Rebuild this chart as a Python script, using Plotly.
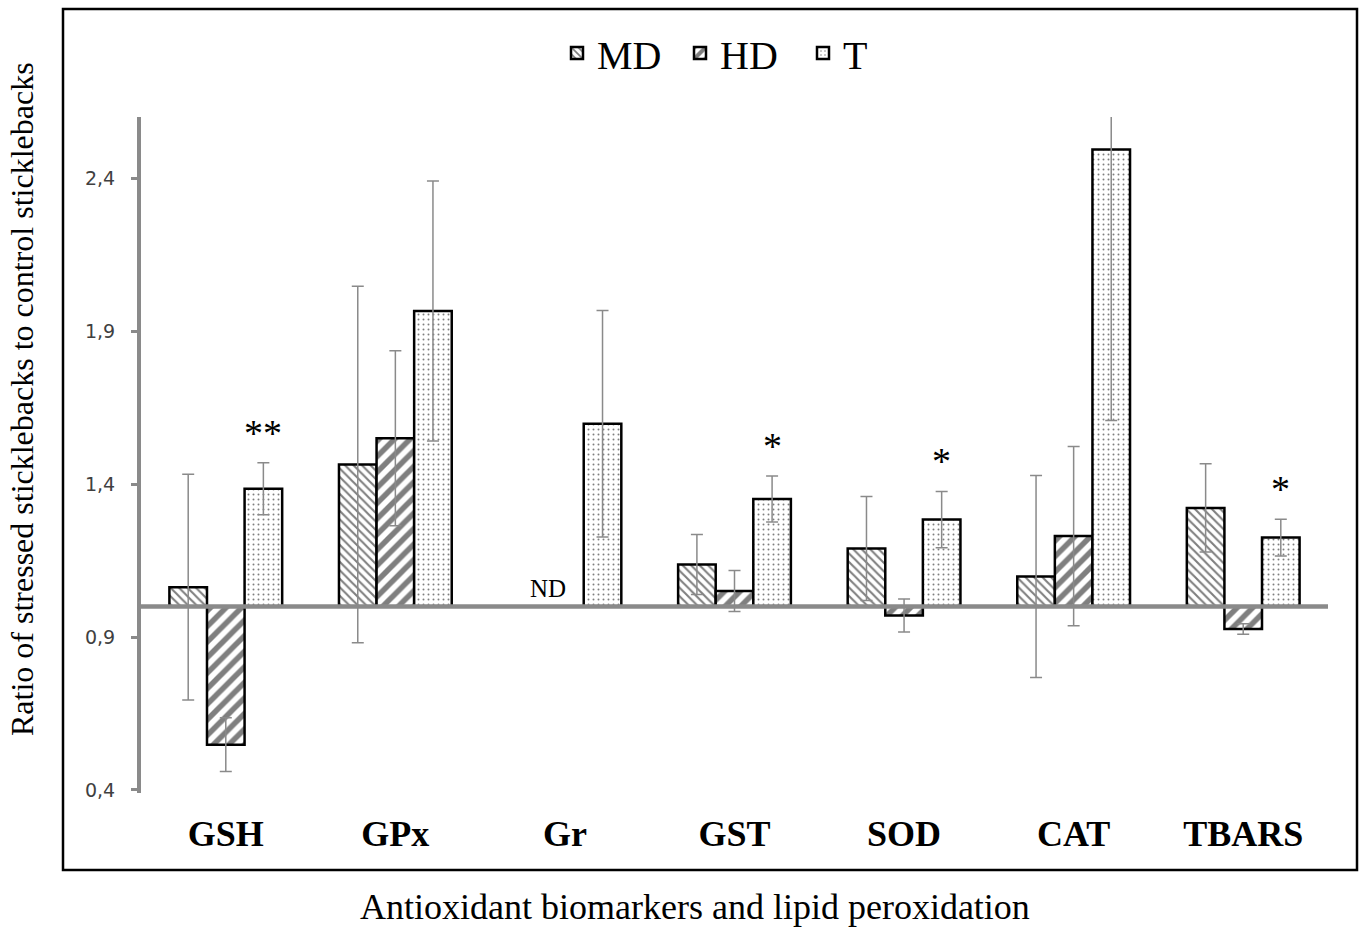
import plotly.graph_objects as go

# ---------------- data ----------------
categories = ["GSH", "GPx", "Gr", "GST", "SOD", "CAT", "TBARS"]
md_vals = [1.063, 1.464, None, 1.137, 1.189, 1.098, 1.322]
md_err = [0.369, 0.583, 0.0, 0.098, 0.170, 0.330, 0.144]
hd_vals = [0.548, 1.550, None, 1.050, 0.970, 1.230, 0.926]
hd_err = [0.088, 0.286, 0.0, 0.067, 0.054, 0.293, 0.017]
t_vals = [1.385, 1.966, 1.597, 1.351, 1.284, 2.494, 1.225]
t_err = [0.085, 0.425, 0.370, 0.075, 0.092, 0.886, 0.060]
significance = ["**", "", "", "*", "*", "", "*"]
not_determined = ["", "", "ND", "", "", "", ""]
baseline = 1.0
ytick_vals = [0.4, 0.9, 1.4, 1.9, 2.4]
ytick_text = ["0,4", "0,9", "1,4", "1,9", "2,4"]

# ---------------- layout geometry (pixels) ----------------
W, H = 1362, 928
ML, MR, MT, MB = 141, 34, 117, 135
PW, PH = W - ML - MR, H - MT - MB
BARGAP = 0.335
bar_px = PW / len(categories) * (1 - BARGAP) / 3

SERIF = "Liberation Serif"
GRAY = "#8a8a8a"


def px_x(px):
    return (px - ML) / PW


def px_y(py):
    return (H - MB - py) / PH


def rel(vals):
    return [None if v is None else v - baseline for v in vals]


series = [
    ("MD", md_vals, md_err, dict(shape="\\", size=6, solidity=0.35)),
    ("HD", hd_vals, hd_err, dict(shape="/", size=11, solidity=0.5)),
    ("T", t_vals, t_err, dict(shape=".", size=5, solidity=0.12)),
]

fig = go.Figure()
for name, vals, errs, pat in series:
    fig.add_trace(go.Bar(
        name=name,
        x=categories,
        y=rel(vals),
        base=baseline,
        marker=dict(
            color="white",
            line=dict(color="black", width=2.5),
            pattern=dict(fgcolor="black", bgcolor="white", **pat),
        ),
        error_y=dict(type="data", array=errs, visible=True,
                     color=GRAY, thickness=1.5, width=6),
    ))

annotations = []
for i, s in enumerate(significance):
    if s:
        annotations.append(dict(
            x=categories[i], y=t_vals[i] + t_err[i], xref="x", yref="y",
            text=s, showarrow=False, xshift=bar_px, yanchor="bottom", yshift=7,
            font=dict(family=SERIF, size=38, color="black"),
        ))
for i, s in enumerate(not_determined):
    if s:
        annotations.append(dict(
            x=categories[i], y=baseline, xref="x", yref="y",
            text=s, showarrow=False, xshift=-17, yanchor="bottom", yshift=2,
            font=dict(family=SERIF, size=25, color="black"),
        ))

annotations.append(dict(
    x=px_x(695), y=px_y(907), xref="paper", yref="paper",
    text="Antioxidant biomarkers and lipid peroxidation", showarrow=False,
    xanchor="center", yanchor="middle",
    font=dict(family=SERIF, size=36, color="black"),
))
annotations.append(dict(
    x=px_x(22), y=px_y(399), xref="paper", yref="paper",
    text="Ratio of stressed sticklebacks to control sticklebacks", showarrow=False,
    textangle=-90, xanchor="center", yanchor="middle",
    font=dict(family=SERIF, size=32, color="black"),
))

shapes = [
    dict(type="line", xref="paper", yref="y", x0=0, x1=1, y0=baseline, y1=baseline,
         line=dict(color=GRAY, width=4.5), layer="above"),
    dict(type="rect", xref="paper", yref="paper",
         x0=px_x(63), x1=px_x(1357), y0=px_y(870), y1=px_y(9),
         line=dict(color="black", width=2.5), layer="above"),
]

fig.update_layout(
    width=W, height=H,
    margin=dict(l=ML, r=MR, t=MT, b=MB),
    paper_bgcolor="white", plot_bgcolor="white",
    barmode="group", bargap=BARGAP, bargroupgap=0,
    showlegend=True,
    legend=dict(orientation="h", x=px_x(557), xanchor="left",
                y=px_y(53), yanchor="middle",
                font=dict(family=SERIF, size=40, color="black"),
                itemwidth=30, entrywidth=78, entrywidthmode="pixels",
                bgcolor="rgba(0,0,0,0)"),
    annotations=annotations,
    shapes=shapes,
    xaxis=dict(
        type="category", showline=False, showgrid=False, ticks="",
        tickfont=dict(family=SERIF, size=36, color="black", weight="bold"),
        ticklabelstandoff=16, zeroline=False,
    ),
    yaxis=dict(
        range=[0.39, 2.6], showgrid=False, zeroline=False,
        showline=True, linecolor=GRAY, linewidth=4,
        ticks="outside", ticklen=6, tickwidth=3, tickcolor=GRAY,
        tickvals=ytick_vals, ticktext=ytick_text,
        tickfont=dict(family="DejaVu Sans", size=19, color="#404040"),
        ticklabelstandoff=12,
    ),
)

fig.write_html("out.html", config={"displayModeBar": False},
               post_script="document.body.style.margin='0px';")
